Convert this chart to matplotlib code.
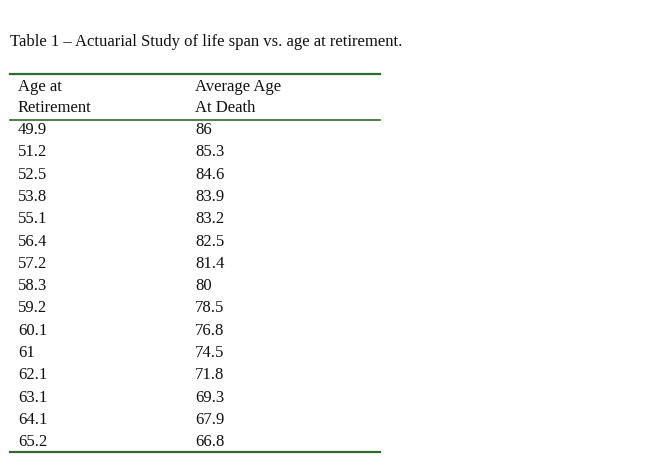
import matplotlib.pyplot as plt
from matplotlib.lines import Line2D

W, H = 666, 467

title = "Table 1 \u2013 Actuarial Study of life span vs. age at retirement."
headers = [("Age at", "Retirement"), ("Average Age", "At Death")]
retire_age = ["49.9", "51.2", "52.5", "53.8", "55.1", "56.4", "57.2", "58.3",
              "59.2", "60.1", "61", "62.1", "63.1", "64.1", "65.2"]
death_age = ["86", "85.3", "84.6", "83.9", "83.2", "82.5", "81.4", "80",
             "78.5", "76.8", "74.5", "71.8", "69.3", "67.9", "66.8"]

plt.rcParams["font.family"] = ["Liberation Serif", "DejaVu Serif"]
fig = plt.figure(figsize=(W / 100, H / 100), dpi=100)
fig.patch.set_facecolor("white")


def px(x, y):
    return x / W, 1 - y / H


def put(x, y, s):
    fx, fy = px(x, y)
    fig.text(fx, fy, s, fontsize=12, color="#111111", va="center", ha="left")


def hline(y, lw=1.6):
    x0, y0 = px(10, y)
    x1, _ = px(380, y)
    fig.add_artist(Line2D([x0, x1], [y0, y0], color="#2e6b2e", lw=lw))


put(10, 42, title)
hline(74)
col_x = [18, 195]
for cx, (h1, h2) in zip(col_x, headers):
    put(cx, 87, h1)
    put(cx, 108, h2)
hline(120, 1.2)

row_h = 22.3
for i, (a, d) in enumerate(zip(retire_age, death_age)):
    y = 130 + i * row_h
    put(col_x[0], y, a)
    put(col_x[1], y, d)
hline(452)

fig.savefig("out.png", dpi=100)
